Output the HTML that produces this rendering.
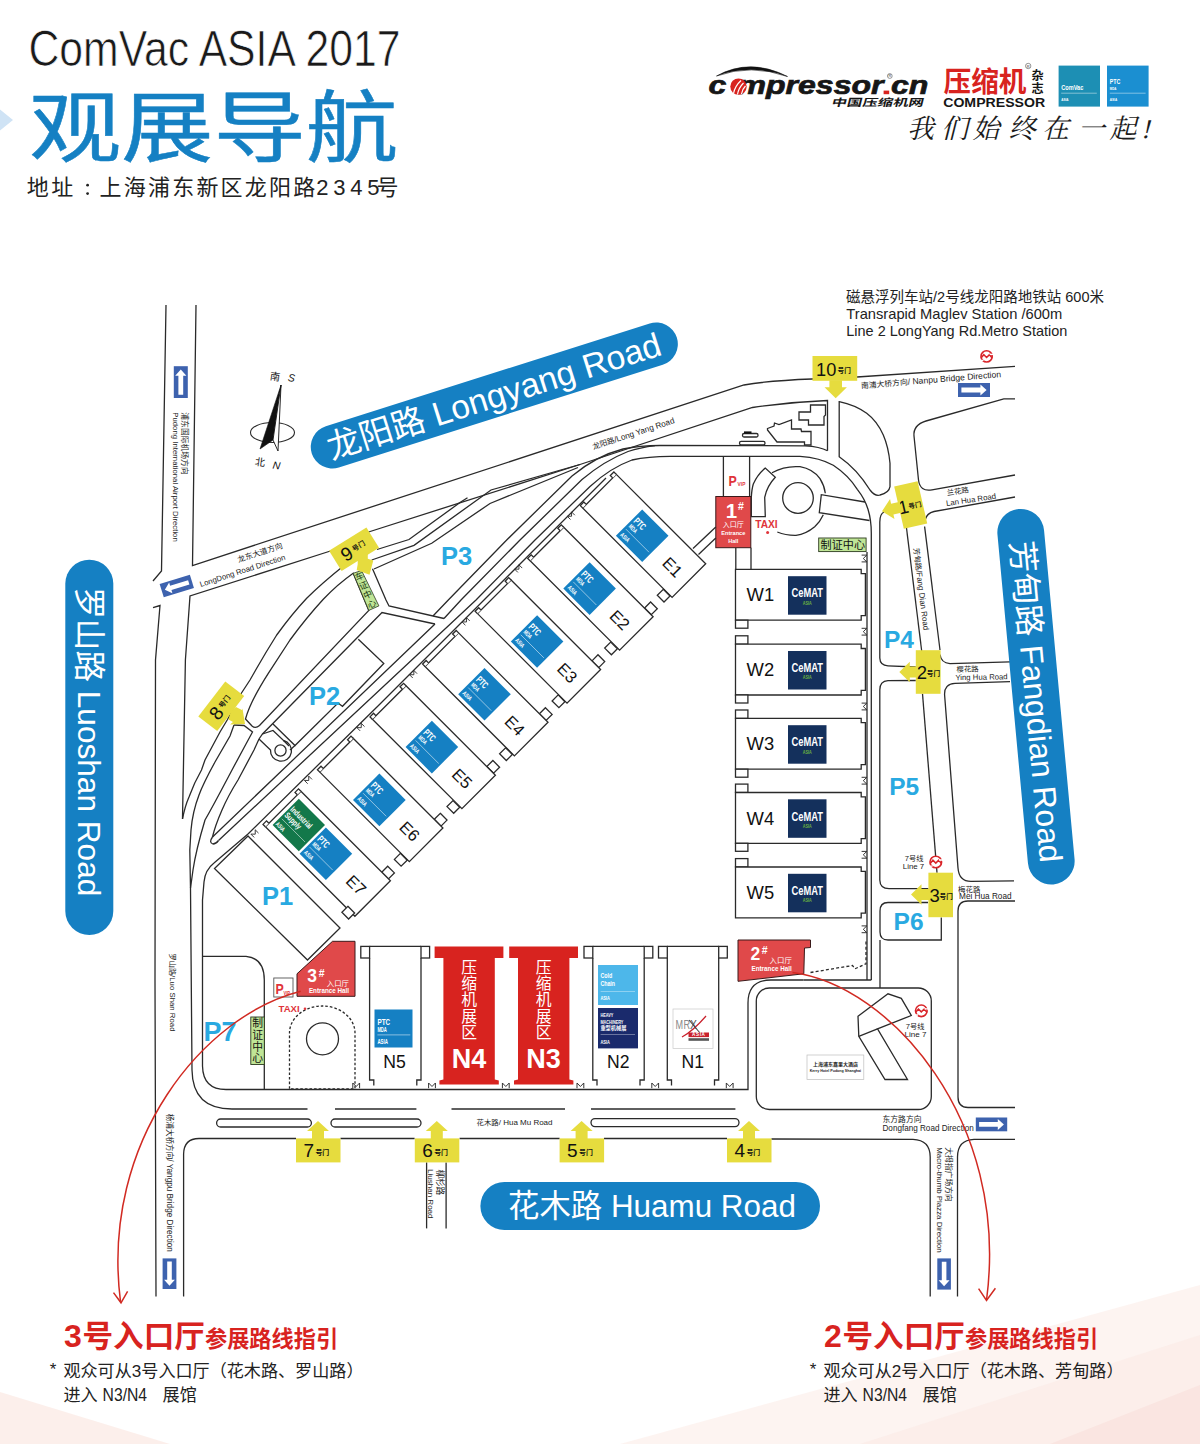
<!DOCTYPE html>
<html lang="zh"><head><meta charset="utf-8"><title>ComVac ASIA 2017 观展导航</title>
<style>
html,body{margin:0;padding:0;background:#fff;}
body{width:1200px;height:1444px;overflow:hidden;font-family:"Liberation Sans",sans-serif;}
svg{display:block}
.cj{font-family:"Liberation Sans","Noto Sans CJK SC",sans-serif}
.cs{font-family:"Liberation Serif","Noto Serif CJK SC",serif}
</style></head><body>
<svg width="1200" height="1444" viewBox="0 0 1200 1444">
<rect width="1200" height="1444" fill="#fff"/>
<path d="M0 109.5 L13 120 L0 130.5Z" fill="#cfe3f5" stroke="none" stroke-width="1.3" />
<text x="28.5" y="65.8" font-family="'Liberation Sans', sans-serif" font-size="50" fill="#1a1a1a" stroke="#fff" stroke-width="0.7" textLength="372" lengthAdjust="spacingAndGlyphs">ComVac ASIA 2017</text>
<text class="cj" x="29" y="155.8" font-size="78" fill="#1580c3" stroke="#1580c3" stroke-width="0.5" textLength="369" lengthAdjust="spacingAndGlyphs">观展导航</text>
<text class="cj" x="26.8" y="195" font-size="22" fill="#222" letter-spacing="2.4">地址</text>
<circle cx="87.6" cy="185.2" r="1.4" fill="#222" stroke="none" stroke-width="1.3"/>
<circle cx="87.6" cy="193.6" r="1.4" fill="#222" stroke="none" stroke-width="1.3"/>
<text class="cj" x="99.6" y="195" font-size="22" fill="#222" letter-spacing="2.2">上海浦东新区龙阳路</text>
<text class="cj" x="316.2" y="195" font-size="22" fill="#222" letter-spacing="4.8">2345</text>
<text class="cj" x="376.6" y="195" font-size="22" fill="#222">号</text>
<path d="M166 305 L161.5 571 L153 581" fill="none" stroke="#2a2a2a" stroke-width="1.3" />
<path d="M153 607.5 L160 605.5 L155.5 660 L155 980 L156 1296.5" fill="none" stroke="#2a2a2a" stroke-width="1.3" />
<path d="M196 305 L192.5 565.5 L744 385 Q770 380.5 812 379 L857 377 L1015 366.3" fill="none" stroke="#2a2a2a" stroke-width="1.3" />
<path d="M182.5 819 L185.4 660 L190 596 L332 550.5" fill="none" stroke="#2a2a2a" stroke-width="1.3" />
<path d="M367 532.5 L580 464.5 L752.5 407.5 Q790 402 827.5 400.5 L827.5 450.8" fill="none" stroke="#2a2a2a" stroke-width="1.3" />
<path d="M467.5 497.8 L460 502.5 L409 539.5 L377 549.5" fill="none" stroke="#2a2a2a" stroke-width="1.3" />
<path d="M371.7 560 L414 545.3 L491 490 L580 464.5" fill="none" stroke="#2a2a2a" stroke-width="1.3" />
<path d="M374 569 L431.7 543.3 L490 503.5 L578 467.5" fill="none" stroke="#2a2a2a" stroke-width="1.3" />
<path d="M433 616 L448.3 600 L506.7 540 L572 476 Q596 456 623 449 Q640 445.5 660 445.5 L805 445.8 Q820 446.5 827.5 450.8" fill="none" stroke="#2a2a2a" stroke-width="1.3" />
<path d="M212.5 837 L435 624 M444 618.5 L461 600 L520 540 L582 479.5 Q604 461 628 451.5 Q640 447.5 655 445.6" fill="none" stroke="#2a2a2a" stroke-width="1.3" />
<path d="M218.5 840.5 L476 600 L535 540 L590 486.5 Q610 468 632 460 Q648 456.3 670 456.3 L800 456.3 Q820 457.5 833.3 465.3 Q848 475 857.3 489.3 Q865 499 868 509.3 Q871.3 520 871.3 533.3 L871.3 980" fill="none" stroke="#2a2a2a" stroke-width="1.3" />
<path d="M867 552 L867 980" fill="none" stroke="#2a2a2a" stroke-width="1.3" />
<path d="M212.5 837 Q208.5 842.5 213 844 Q216 844 218.5 840.5" fill="none" stroke="#2a2a2a" stroke-width="1.3" />
<path d="M248 834 L380 704 L484 600 L606 478" fill="none" stroke="#2a2a2a" stroke-width="1.3" />
<path d="M248 834 L214 863 Q205 870 204 882 L202.5 900 L202.5 1066 Q203 1089.5 226 1089.5 L747 1089.5" fill="none" stroke="#2a2a2a" stroke-width="1.3" />
<path d="M182.5 819 Q185 806 189 797 Q194 783 201.5 770 L205 760 L220 732 L227.5 719.5 L241.5 693 L250 680 L256.7 668.3 Q266 652 276.7 635 Q292 614 306.7 598.3 Q322 583 346 564" fill="none" stroke="#2a2a2a" stroke-width="1.3" />
<path d="M234 725 L230 736 L215 762 Q203 784 199 795 Q192.5 812 191 830 L189.8 850 L190.5 888 L192 1070 Q192.5 1109 232 1109 L307.5 1109" fill="none" stroke="#2a2a2a" stroke-width="1.3" />
<path d="M234 725 L244 725.5 L252.5 732 L246 744 L232 770 Q212 808 205 820 Q196 850 193 870 L190.5 888" fill="none" stroke="#2a2a2a" stroke-width="1.3" />
<path d="M259 739 L254 750 L238 780 Q228 796 222 810 Q215 826 212.5 837" fill="none" stroke="#2a2a2a" stroke-width="1.3" />
<path d="M245.5 719 Q250 702 268.3 673.3 L290 640 Q306 618 323.3 599.2 Q338 584 353.2 573.3 L368.8 610.4 L259.5 725.5 Q255.5 729 252 726 Z" fill="none" stroke="#2a2a2a" stroke-width="1.3" />
<path d="M259 739 L262.5 734 L382 612.5 L435 624" fill="none" stroke="#2a2a2a" stroke-width="1.3" />
<path d="M372.5 568.8 L386 600 L389 606 L444 618.5" fill="none" stroke="#2a2a2a" stroke-width="1.3" />
<path d="M358.3 639.2 L383.8 663.5 L342.5 706.3 L338 703 L295 745.5 L273 724" fill="none" stroke="#2a2a2a" stroke-width="1.3" />
<path d="M290 750 L295 745.5" fill="none" stroke="#2a2a2a" stroke-width="1.3" />
<path d="M259 739 L270.5 750 A10.5 10.5 0 1 0 283.5 740.5 L273 730.5 L262.5 734" fill="none" stroke="#2a2a2a" stroke-width="1.3" />
<path d="M283.5 740.5 L289 746" fill="none" stroke="#2a2a2a" stroke-width="1.3" />
<circle cx="280.5" cy="750.5" r="5.6" fill="none" stroke="#2a2a2a" stroke-width="1.3"/>
<path d="M839.2 401.7 L839.2 456.7 Q857 469 870 490 Q875 496.5 880 495 Q889 493 890 486.7 L890 463.3 Q888.5 447 883.3 435 Q877 421 866.7 413.3 Q855 405 839.2 401.7 Z" fill="none" stroke="#2a2a2a" stroke-width="1.3" />
<path d="M803.5 980 L871.3 980" fill="none" stroke="#2a2a2a" stroke-width="1.3" />
<path d="M747 1089.5 L748 1089.5 L748 1003 Q748 980 771 980 L803.5 980" fill="none" stroke="#2a2a2a" stroke-width="1.3" />
<path d="M884 512 Q879.8 514 879.8 522 L879.8 658 Q880 665.5 888 665.8 L915.8 667" fill="none" stroke="#2a2a2a" stroke-width="1.3" />
<path d="M906.5 528 L921.7 651" fill="none" stroke="#2a2a2a" stroke-width="1.3" />
<path d="M924.6 526.5 L940 650" fill="none" stroke="#2a2a2a" stroke-width="1.3" />
<path d="M915.8 680.5 L888 680.7 Q879.8 681 879.8 690 L879.8 880 Q880 888.7 889 888.7 L928.4 888.7" fill="none" stroke="#2a2a2a" stroke-width="1.3" />
<path d="M922.5 693.8 L937 872.7" fill="none" stroke="#2a2a2a" stroke-width="1.3" />
<path d="M941.3 917.5 L941.3 940 L888 940 Q880 940 880 932 L880 911 Q880 902.5 888 902.5 L928 902.5" fill="none" stroke="#2a2a2a" stroke-width="1.3" />
<path d="M880 940 L880 988" fill="none" stroke="#2a2a2a" stroke-width="1.3" />
<path d="M1015 398.8 L1003.8 398.8 L926 421 Q913 425 914 436 L918.5 480 Q920 492 932 489.8 L1015 475" fill="none" stroke="#2a2a2a" stroke-width="1.3" />
<path d="M1015 497 L934 511.5 Q927 513 925 520" fill="none" stroke="#2a2a2a" stroke-width="1.3" />
<path d="M940 654.5 Q941 663 950 663.6 L1010 661.8" fill="none" stroke="#2a2a2a" stroke-width="1.3" />
<path d="M1010 681.6 L955 683.4 Q944 684 944.6 695 L958 868 Q959 881.4 971 881.4 L1014 880.8" fill="none" stroke="#2a2a2a" stroke-width="1.3" />
<path d="M1015 901 L968 901 Q958 901 958 911 L958 1097 Q958 1107.5 968 1107.5 L1015 1107.5" fill="none" stroke="#2a2a2a" stroke-width="1.3" />
<path d="M953 898 L1014 897.5" fill="none" stroke="none" stroke-width="1.3" />
<rect x="756.3" y="988" width="175" height="121.5" rx="13" fill="none" stroke="#2a2a2a" stroke-width="1.3" />
<path d="M858 1016.3 L888 993.8 L901.3 998.3 L911.3 1015.5 L877.5 1028.8 L907.5 1079.5 L885 1079.5 L858.8 1036.3Z" fill="none" stroke="#2a2a2a" stroke-width="1.3" />
<path d="M858.8 1036.3 L877.5 1028.8" fill="none" stroke="#2a2a2a" stroke-width="1.3" />
<rect x="807" y="1055" width="56.8" height="24.5" rx="0" fill="#fff" stroke="#bdbdbd" stroke-width="0.7" />
<path d="M810.5 972.5 L852.5 965.5 L855 968.8 L866 963.8 L866 941" fill="none" stroke="#2a2a2a" stroke-width="1.3" stroke-dasharray="3 2.2"/>
<path d="M335 1109 L416.4 1109" fill="none" stroke="#2a2a2a" stroke-width="1.3" />
<path d="M451.5 1109 L565 1109" fill="none" stroke="#2a2a2a" stroke-width="1.3" />
<path d="M591 1109 L735.4 1109" fill="none" stroke="#2a2a2a" stroke-width="1.3" />
<rect x="216.6" y="1119" width="94.8" height="8" rx="4" fill="none" stroke="#2a2a2a" stroke-width="1.3" />
<rect x="331" y="1119" width="90" height="8" rx="4" fill="none" stroke="#2a2a2a" stroke-width="1.3" />
<rect x="591" y="1118.6" width="148" height="8" rx="4" fill="none" stroke="#2a2a2a" stroke-width="1.3" />
<path d="M183.6 1296.5 L183.6 1154 Q184 1138.5 199 1138.5 L296 1138.5" fill="none" stroke="#2a2a2a" stroke-width="1.3" />
<path d="M340.5 1138.5 L414.6 1138.5" fill="none" stroke="#2a2a2a" stroke-width="1.3" />
<path d="M459.6 1138.5 L559.6 1138.5" fill="none" stroke="#2a2a2a" stroke-width="1.3" />
<path d="M604 1138.5 L727 1138.5" fill="none" stroke="#2a2a2a" stroke-width="1.3" />
<path d="M771.4 1139 L913 1139.3 Q930.2 1140 930.2 1157 L930.2 1296.5" fill="none" stroke="#2a2a2a" stroke-width="1.3" />
<path d="M1015 1139.3 L974 1139.3 Q957.5 1140 957.5 1157 L957.5 1296.5" fill="none" stroke="#2a2a2a" stroke-width="1.3" />
<path d="M426.6 1162.4 L426.6 1228.4" fill="none" stroke="#2a2a2a" stroke-width="1.3" />
<path d="M446.1 1162.4 L446.1 1228.4" fill="none" stroke="#2a2a2a" stroke-width="1.3" />
<path d="M810.5 405 L825.5 405 L825.5 415 L824 416.5 L824 425 L808.5 425 L808.5 420 L799 420 L799 412 L810.5 412Z" fill="none" stroke="#2a2a2a" stroke-width="1.3" />
<path d="M767.5 428.5 L774 426 L774.5 423 L779 424.5 L791.5 420 L791.5 429 L801 429 L801.5 431.5 L811 431.5 L811 445 L804.5 445 L804.5 442 L777 442 L767.5 430Z" fill="none" stroke="#2a2a2a" stroke-width="1.3" />
<rect x="739.5" y="441.3" width="25.5" height="3.6" rx="1.6" fill="none" stroke="#2a2a2a" stroke-width="1.3" />
<rect x="742.5" y="433.5" width="15.5" height="3.5" rx="1.5" fill="none" stroke="#2a2a2a" stroke-width="1.3" />
<rect x="744" y="431.4" width="7.5" height="2.2" rx="0" fill="#111" stroke="none" stroke-width="1.3" />
<path d="M723.4 456.3 L723.4 497" fill="none" stroke="#2a2a2a" stroke-width="1.3" />
<path d="M749.6 456.3 L749.6 497" fill="none" stroke="#2a2a2a" stroke-width="1.3" />
<circle cx="798" cy="498" r="15.3" fill="none" stroke="#2a2a2a" stroke-width="1.3"/>
<path d="M751.3 516.7 L751.3 497.3 Q751.8 489 753.3 484 Q757.5 474.5 765.3 468 L775.3 477.3 Q767 486 764.7 497.3 L765.3 516.7 Z" fill="none" stroke="#2a2a2a" stroke-width="1.3" />
<path d="M772 472.7 Q785 465.5 800 466.7 Q813 469 820 478.7 Q824.5 486 825.3 493.3" fill="none" stroke="#2a2a2a" stroke-width="1.3" />
<path d="M823.3 514.7 Q820 522 814.7 526.7 Q806 534 796 535.3 Q786 535.5 777.3 532" fill="none" stroke="#2a2a2a" stroke-width="1.3" />
<path d="M865 502 L821.3 494.7 L819.3 512.7 L869.5 520.5" fill="none" stroke="#2a2a2a" stroke-width="1.3" />
<path d="M289.5 1088.8 L289.5 1033 A32.75 27 0 0 1 355 1033 L355 1088.8 Z" fill="none" stroke="#2a2a2a" stroke-width="1.3" stroke-dasharray="2.6 2"/>
<circle cx="322.5" cy="1038.8" r="16" fill="none" stroke="#2a2a2a" stroke-width="1.3"/>
<path d="M202.5 956.3 L246 956.3 Q264.3 958 264.3 980 L264.3 1089.5" fill="none" stroke="#2a2a2a" stroke-width="1.3" />
<rect x="273.8" y="978" width="19.2" height="19" rx="0" fill="#fff" stroke="#555" stroke-width="0.9" />
<path d="M616.3 474.4 L705.7 563.8 L672.1 597.4 L582.7 508Z" fill="#fff" stroke="#2a2a2a" stroke-width="1.3" />
<path d="M582.7 508 L580.3 505.6 L583.8 502 L586.2 504.4" fill="#fff" stroke="#2a2a2a" stroke-width="1.3" />
<path d="M616.3 474.4 L613.9 472 L610.3 475.5 L612.7 477.9" fill="#fff" stroke="#2a2a2a" stroke-width="1.3" />
<path d="M663.3 589.3 L670 596 L664 602 L657.3 595.3Z" fill="#fff" stroke="#2a2a2a" stroke-width="1.3" />
<path d="M650.6 602 L657.3 608.7 L651.3 614.7 L644.6 608Z" fill="#fff" stroke="#2a2a2a" stroke-width="1.3" />
<path d="M642.2 509.5 L668.5 535.8 L642.2 562.1 L615.9 535.8Z" fill="#1580c3" stroke="none" stroke-width="1.3" />
<g transform="translate(642.2 535.8) rotate(45)">
<text x="0" y="0" font-family="'Liberation Sans', sans-serif" font-size="9.8" font-weight="bold" fill="#fff" text-anchor="start" transform="translate(-16.3 -3.4) scale(0.65 1)" >PTC</text>
<text x="0" y="0" font-family="'Liberation Sans', sans-serif" font-size="6.3" font-weight="bold" fill="#fff" text-anchor="start" transform="translate(-16.3 3.6) scale(0.66 1)" >MDA</text>
<line x1="-16.3" y1="6.8" x2="16.4" y2="6.8" stroke="#fff" stroke-width="0.55" opacity="0.92"/>
<text x="0" y="0" font-family="'Liberation Sans', sans-serif" font-size="6.3" font-weight="bold" fill="#fff" text-anchor="start" transform="translate(-16.3 15.4) scale(0.7 1)" >ASIA</text>
</g>
<text x="0" y="0" font-family="'Liberation Sans', sans-serif" font-size="16.6" font-weight="normal" fill="#111" text-anchor="middle" transform="translate(672.2 567.4) rotate(45)" dominant-baseline="central">E1</text>
<path d="M-3.4 2.6 L-3.4 -2.6 L0 0.9 L3.4 -2.6 L3.4 2.6" fill="none" stroke="#2a2a2a" stroke-width="0.95" transform="translate(571 515.7) rotate(-45) scale(0.9)"/>
<path d="M563.7 527.2 L653.1 616.7 L619.6 650.2 L530.1 560.8Z" fill="#fff" stroke="#2a2a2a" stroke-width="1.3" />
<path d="M530.1 560.8 L527.7 558.4 L531.2 554.9 L533.6 557.3" fill="#fff" stroke="#2a2a2a" stroke-width="1.3" />
<path d="M563.7 527.2 L561.3 524.8 L557.8 528.3 L560.2 530.7" fill="#fff" stroke="#2a2a2a" stroke-width="1.3" />
<path d="M610.7 642.1 L617.4 648.8 L611.4 654.8 L604.7 648.1Z" fill="#fff" stroke="#2a2a2a" stroke-width="1.3" />
<path d="M598 654.8 L604.7 661.6 L598.7 667.6 L592 660.9Z" fill="#fff" stroke="#2a2a2a" stroke-width="1.3" />
<path d="M589.6 562.3 L615.9 588.6 L589.6 614.9 L563.3 588.6Z" fill="#1580c3" stroke="none" stroke-width="1.3" />
<g transform="translate(589.6 588.6) rotate(45)">
<text x="0" y="0" font-family="'Liberation Sans', sans-serif" font-size="9.8" font-weight="bold" fill="#fff" text-anchor="start" transform="translate(-16.3 -3.4) scale(0.65 1)" >PTC</text>
<text x="0" y="0" font-family="'Liberation Sans', sans-serif" font-size="6.3" font-weight="bold" fill="#fff" text-anchor="start" transform="translate(-16.3 3.6) scale(0.66 1)" >MDA</text>
<line x1="-16.3" y1="6.8" x2="16.4" y2="6.8" stroke="#fff" stroke-width="0.55" opacity="0.92"/>
<text x="0" y="0" font-family="'Liberation Sans', sans-serif" font-size="6.3" font-weight="bold" fill="#fff" text-anchor="start" transform="translate(-16.3 15.4) scale(0.7 1)" >ASIA</text>
</g>
<text x="0" y="0" font-family="'Liberation Sans', sans-serif" font-size="16.6" font-weight="normal" fill="#111" text-anchor="middle" transform="translate(619.6 620.2) rotate(45)" dominant-baseline="central">E2</text>
<path d="M-3.4 2.6 L-3.4 -2.6 L0 0.9 L3.4 -2.6 L3.4 2.6" fill="none" stroke="#2a2a2a" stroke-width="0.95" transform="translate(518.4 568.6) rotate(-45) scale(0.9)"/>
<path d="M511.1 580 L600.6 669.5 L567 703.1 L477.5 613.6Z" fill="#fff" stroke="#2a2a2a" stroke-width="1.3" />
<path d="M477.5 613.6 L475.1 611.2 L478.7 607.7 L481.1 610.1" fill="#fff" stroke="#2a2a2a" stroke-width="1.3" />
<path d="M511.1 580 L508.7 577.6 L505.2 581.2 L507.6 583.6" fill="#fff" stroke="#2a2a2a" stroke-width="1.3" />
<path d="M558.2 694.9 L564.9 701.7 L558.9 707.7 L552.1 701Z" fill="#fff" stroke="#2a2a2a" stroke-width="1.3" />
<path d="M545.4 707.7 L552.1 714.4 L546.1 720.4 L539.4 713.7Z" fill="#fff" stroke="#2a2a2a" stroke-width="1.3" />
<path d="M537.1 615.2 L563.4 641.5 L537.1 667.8 L510.8 641.5Z" fill="#1580c3" stroke="none" stroke-width="1.3" />
<g transform="translate(537.1 641.5) rotate(45)">
<text x="0" y="0" font-family="'Liberation Sans', sans-serif" font-size="9.8" font-weight="bold" fill="#fff" text-anchor="start" transform="translate(-16.3 -3.4) scale(0.65 1)" >PTC</text>
<text x="0" y="0" font-family="'Liberation Sans', sans-serif" font-size="6.3" font-weight="bold" fill="#fff" text-anchor="start" transform="translate(-16.3 3.6) scale(0.66 1)" >MDA</text>
<line x1="-16.3" y1="6.8" x2="16.4" y2="6.8" stroke="#fff" stroke-width="0.55" opacity="0.92"/>
<text x="0" y="0" font-family="'Liberation Sans', sans-serif" font-size="6.3" font-weight="bold" fill="#fff" text-anchor="start" transform="translate(-16.3 15.4) scale(0.7 1)" >ASIA</text>
</g>
<text x="0" y="0" font-family="'Liberation Sans', sans-serif" font-size="16.6" font-weight="normal" fill="#111" text-anchor="middle" transform="translate(567.1 673.1) rotate(45)" dominant-baseline="central">E3</text>
<path d="M-3.4 2.6 L-3.4 -2.6 L0 0.9 L3.4 -2.6 L3.4 2.6" fill="none" stroke="#2a2a2a" stroke-width="0.95" transform="translate(465.9 621.4) rotate(-45) scale(0.9)"/>
<path d="M458.6 632.9 L548 722.3 L514.4 755.9 L425 666.5Z" fill="#fff" stroke="#2a2a2a" stroke-width="1.3" />
<path d="M425 666.5 L422.6 664.1 L426.1 660.5 L428.5 662.9" fill="#fff" stroke="#2a2a2a" stroke-width="1.3" />
<path d="M458.6 632.9 L456.2 630.5 L452.6 634 L455 636.4" fill="#fff" stroke="#2a2a2a" stroke-width="1.3" />
<path d="M505.6 747.8 L512.3 754.5 L506.3 760.5 L499.6 753.8Z" fill="#fff" stroke="#2a2a2a" stroke-width="1.3" />
<path d="M492.9 760.5 L499.6 767.2 L493.6 773.2 L486.8 766.5Z" fill="#fff" stroke="#2a2a2a" stroke-width="1.3" />
<path d="M484.5 668 L510.8 694.3 L484.5 720.6 L458.2 694.3Z" fill="#1580c3" stroke="none" stroke-width="1.3" />
<g transform="translate(484.5 694.3) rotate(45)">
<text x="0" y="0" font-family="'Liberation Sans', sans-serif" font-size="9.8" font-weight="bold" fill="#fff" text-anchor="start" transform="translate(-16.3 -3.4) scale(0.65 1)" >PTC</text>
<text x="0" y="0" font-family="'Liberation Sans', sans-serif" font-size="6.3" font-weight="bold" fill="#fff" text-anchor="start" transform="translate(-16.3 3.6) scale(0.66 1)" >MDA</text>
<line x1="-16.3" y1="6.8" x2="16.4" y2="6.8" stroke="#fff" stroke-width="0.55" opacity="0.92"/>
<text x="0" y="0" font-family="'Liberation Sans', sans-serif" font-size="6.3" font-weight="bold" fill="#fff" text-anchor="start" transform="translate(-16.3 15.4) scale(0.7 1)" >ASIA</text>
</g>
<text x="0" y="0" font-family="'Liberation Sans', sans-serif" font-size="16.6" font-weight="normal" fill="#111" text-anchor="middle" transform="translate(514.5 725.9) rotate(45)" dominant-baseline="central">E4</text>
<path d="M-3.4 2.6 L-3.4 -2.6 L0 0.9 L3.4 -2.6 L3.4 2.6" fill="none" stroke="#2a2a2a" stroke-width="0.95" transform="translate(413.3 674.2) rotate(-45) scale(0.9)"/>
<path d="M406 685.7 L495.4 775.2 L461.9 808.7 L372.4 719.3Z" fill="#fff" stroke="#2a2a2a" stroke-width="1.3" />
<path d="M372.4 719.3 L370 716.9 L373.5 713.3 L375.9 715.8" fill="#fff" stroke="#2a2a2a" stroke-width="1.3" />
<path d="M406 685.7 L403.6 683.3 L400 686.8 L402.5 689.2" fill="#fff" stroke="#2a2a2a" stroke-width="1.3" />
<path d="M453 800.6 L459.7 807.3 L453.7 813.3 L447 806.6Z" fill="#fff" stroke="#2a2a2a" stroke-width="1.3" />
<path d="M440.3 813.3 L447 820.1 L441 826.1 L434.3 819.3Z" fill="#fff" stroke="#2a2a2a" stroke-width="1.3" />
<path d="M431.9 720.8 L458.2 747.1 L431.9 773.4 L405.6 747.1Z" fill="#1580c3" stroke="none" stroke-width="1.3" />
<g transform="translate(431.9 747.1) rotate(45)">
<text x="0" y="0" font-family="'Liberation Sans', sans-serif" font-size="9.8" font-weight="bold" fill="#fff" text-anchor="start" transform="translate(-16.3 -3.4) scale(0.65 1)" >PTC</text>
<text x="0" y="0" font-family="'Liberation Sans', sans-serif" font-size="6.3" font-weight="bold" fill="#fff" text-anchor="start" transform="translate(-16.3 3.6) scale(0.66 1)" >MDA</text>
<line x1="-16.3" y1="6.8" x2="16.4" y2="6.8" stroke="#fff" stroke-width="0.55" opacity="0.92"/>
<text x="0" y="0" font-family="'Liberation Sans', sans-serif" font-size="6.3" font-weight="bold" fill="#fff" text-anchor="start" transform="translate(-16.3 15.4) scale(0.7 1)" >ASIA</text>
</g>
<text x="0" y="0" font-family="'Liberation Sans', sans-serif" font-size="16.6" font-weight="normal" fill="#111" text-anchor="middle" transform="translate(461.9 778.7) rotate(45)" dominant-baseline="central">E5</text>
<path d="M-3.4 2.6 L-3.4 -2.6 L0 0.9 L3.4 -2.6 L3.4 2.6" fill="none" stroke="#2a2a2a" stroke-width="0.95" transform="translate(360.7 727.1) rotate(-45) scale(0.9)"/>
<path d="M353.4 738.5 L442.9 828 L409.3 861.6 L319.8 772.1Z" fill="#fff" stroke="#2a2a2a" stroke-width="1.3" />
<path d="M319.8 772.1 L317.4 769.7 L321 766.2 L323.4 768.6" fill="#fff" stroke="#2a2a2a" stroke-width="1.3" />
<path d="M353.4 738.5 L351 736.1 L347.5 739.7 L349.9 742.1" fill="#fff" stroke="#2a2a2a" stroke-width="1.3" />
<path d="M400.4 853.4 L407.2 860.2 L401.1 866.2 L394.4 859.4Z" fill="#fff" stroke="#2a2a2a" stroke-width="1.3" />
<path d="M387.7 866.2 L394.4 872.9 L388.4 878.9 L381.7 872.2Z" fill="#fff" stroke="#2a2a2a" stroke-width="1.3" />
<path d="M379.4 773.6 L405.7 799.9 L379.4 826.3 L353 799.9Z" fill="#1580c3" stroke="none" stroke-width="1.3" />
<g transform="translate(379.4 799.9) rotate(45)">
<text x="0" y="0" font-family="'Liberation Sans', sans-serif" font-size="9.8" font-weight="bold" fill="#fff" text-anchor="start" transform="translate(-16.3 -3.4) scale(0.65 1)" >PTC</text>
<text x="0" y="0" font-family="'Liberation Sans', sans-serif" font-size="6.3" font-weight="bold" fill="#fff" text-anchor="start" transform="translate(-16.3 3.6) scale(0.66 1)" >MDA</text>
<line x1="-16.3" y1="6.8" x2="16.4" y2="6.8" stroke="#fff" stroke-width="0.55" opacity="0.92"/>
<text x="0" y="0" font-family="'Liberation Sans', sans-serif" font-size="6.3" font-weight="bold" fill="#fff" text-anchor="start" transform="translate(-16.3 15.4) scale(0.7 1)" >ASIA</text>
</g>
<text x="0" y="0" font-family="'Liberation Sans', sans-serif" font-size="16.6" font-weight="normal" fill="#111" text-anchor="middle" transform="translate(409.4 831.5) rotate(45)" dominant-baseline="central">E6</text>
<path d="M-3.4 2.6 L-3.4 -2.6 L0 0.9 L3.4 -2.6 L3.4 2.6" fill="none" stroke="#2a2a2a" stroke-width="0.95" transform="translate(308.2 779.9) rotate(-45) scale(0.9)"/>
<path d="M300.9 791.3 L390.4 880.8 L354.9 916.3 L265.4 826.8Z" fill="#fff" stroke="#2a2a2a" stroke-width="1.3" />
<path d="M265.4 826.8 L263 824.4 L266.5 820.9 L268.9 823.3" fill="#fff" stroke="#2a2a2a" stroke-width="1.3" />
<path d="M300.9 791.3 L298.5 788.9 L295 792.4 L297.4 794.8" fill="#fff" stroke="#2a2a2a" stroke-width="1.3" />
<path d="M325.9 827.4 L352.2 853.7 L325.9 880 L299.6 853.7Z" fill="#1580c3" stroke="none" stroke-width="1.3" />
<g transform="translate(325.9 853.7) rotate(45)">
<text x="0" y="0" font-family="'Liberation Sans', sans-serif" font-size="9.8" font-weight="bold" fill="#fff" text-anchor="start" transform="translate(-16.3 -3.4) scale(0.65 1)" >PTC</text>
<text x="0" y="0" font-family="'Liberation Sans', sans-serif" font-size="6.3" font-weight="bold" fill="#fff" text-anchor="start" transform="translate(-16.3 3.6) scale(0.66 1)" >MDA</text>
<line x1="-16.3" y1="6.8" x2="16.4" y2="6.8" stroke="#fff" stroke-width="0.55" opacity="0.92"/>
<text x="0" y="0" font-family="'Liberation Sans', sans-serif" font-size="6.3" font-weight="bold" fill="#fff" text-anchor="start" transform="translate(-16.3 15.4) scale(0.7 1)" >ASIA</text>
</g>
<text x="0" y="0" font-family="'Liberation Sans', sans-serif" font-size="16.6" font-weight="normal" fill="#111" text-anchor="middle" transform="translate(355.9 885.3) rotate(45)" dominant-baseline="central">E7</text>
<path d="M-3.4 2.6 L-3.4 -2.6 L0 0.9 L3.4 -2.6 L3.4 2.6" fill="none" stroke="#2a2a2a" stroke-width="0.95" transform="translate(254.7 833.6) rotate(-45) scale(0.9)"/>
<path d="M347.9 906.3 L354.6 913 L348.6 919 L341.9 912.3Z" fill="#fff" stroke="#2a2a2a" stroke-width="1.3" />
<path d="M298.8 798.8 L325 825 L298.8 851.2 L272.6 825Z" fill="#13784a" stroke="none" stroke-width="1.3" />
<g transform="translate(298.8 825) rotate(45)">
<text x="0" y="0" font-family="'Liberation Sans', sans-serif" font-size="8.4" font-weight="bold" fill="#fff" text-anchor="start" transform="translate(-17 -4.2) scale(0.72 1)" >Industrial</text>
<text x="0" y="0" font-family="'Liberation Sans', sans-serif" font-size="8.4" font-weight="bold" fill="#fff" text-anchor="start" transform="translate(-17 3.9) scale(0.72 1)" >Supply</text>
<line x1="-16.4" y1="7.6" x2="16.4" y2="7.6" stroke="#fff" stroke-width="0.55" opacity="0.92"/>
<text x="0" y="0" font-family="'Liberation Sans', sans-serif" font-size="6.3" font-weight="bold" fill="#fff" text-anchor="start" transform="translate(-17 16.4) scale(0.7 1)" >ASIA</text>
</g>
<path d="M248 836 L340 928 L307.5 960 L214.5 868.5Z" fill="#fff" stroke="#2a2a2a" stroke-width="1.3" />
<path d="M735.5 569.4 L861.2 569.4 L861.2 573.7 L865.4 573.7 L865.4 615.6 L861.2 615.6 L861.2 620.2 L735.5 620.2Z" fill="#fff" stroke="#2a2a2a" stroke-width="1.3" />
<rect x="788" y="576.2" width="38.5" height="38.5" rx="0" fill="#14305c" stroke="none" stroke-width="1.3" />
<text x="0" y="0" font-family="'Liberation Sans', sans-serif" font-size="12.8" font-weight="bold" fill="#fff" text-anchor="middle" transform="translate(807.2 597.4) scale(0.73 1)" >CeMAT</text>
<text x="0" y="0" font-family="'Liberation Sans', sans-serif" font-size="5.4" font-weight="bold" fill="#6db33f" text-anchor="middle" transform="translate(807.2 604.5) scale(0.7 1)" >ASIA</text>
<text x="760.4" y="601.4" font-family="'Liberation Sans', sans-serif" font-size="18.4" font-weight="normal" fill="#111" text-anchor="middle" >W1</text>
<rect x="735.5" y="620.2" width="12.4" height="8" rx="0" fill="#fff" stroke="#2a2a2a" stroke-width="1.3" />
<rect x="735.5" y="635.8" width="12.4" height="8.4" rx="0" fill="#fff" stroke="#2a2a2a" stroke-width="1.3" />
<path d="M-3.4 2.6 L-3.4 -2.6 L0 0.9 L3.4 -2.6 L3.4 2.6" fill="none" stroke="#2a2a2a" stroke-width="0.95" transform="translate(864.2 631.7) rotate(90) scale(1.0)"/>
<path d="M735.5 644.2 L861.2 644.2 L861.2 648.5 L865.4 648.5 L865.4 690.4 L861.2 690.4 L861.2 695 L735.5 695Z" fill="#fff" stroke="#2a2a2a" stroke-width="1.3" />
<rect x="788" y="651" width="38.5" height="38.5" rx="0" fill="#14305c" stroke="none" stroke-width="1.3" />
<text x="0" y="0" font-family="'Liberation Sans', sans-serif" font-size="12.8" font-weight="bold" fill="#fff" text-anchor="middle" transform="translate(807.2 672.2) scale(0.73 1)" >CeMAT</text>
<text x="0" y="0" font-family="'Liberation Sans', sans-serif" font-size="5.4" font-weight="bold" fill="#6db33f" text-anchor="middle" transform="translate(807.2 679.3) scale(0.7 1)" >ASIA</text>
<text x="760.4" y="676.2" font-family="'Liberation Sans', sans-serif" font-size="18.4" font-weight="normal" fill="#111" text-anchor="middle" >W2</text>
<rect x="735.5" y="695" width="12.4" height="8" rx="0" fill="#fff" stroke="#2a2a2a" stroke-width="1.3" />
<rect x="735.5" y="710" width="12.4" height="8.4" rx="0" fill="#fff" stroke="#2a2a2a" stroke-width="1.3" />
<path d="M-3.4 2.6 L-3.4 -2.6 L0 0.9 L3.4 -2.6 L3.4 2.6" fill="none" stroke="#2a2a2a" stroke-width="0.95" transform="translate(864.2 706.5) rotate(90) scale(1.0)"/>
<path d="M735.5 718.4 L861.2 718.4 L861.2 722.7 L865.4 722.7 L865.4 764.6 L861.2 764.6 L861.2 769.2 L735.5 769.2Z" fill="#fff" stroke="#2a2a2a" stroke-width="1.3" />
<rect x="788" y="725.2" width="38.5" height="38.5" rx="0" fill="#14305c" stroke="none" stroke-width="1.3" />
<text x="0" y="0" font-family="'Liberation Sans', sans-serif" font-size="12.8" font-weight="bold" fill="#fff" text-anchor="middle" transform="translate(807.2 746.4) scale(0.73 1)" >CeMAT</text>
<text x="0" y="0" font-family="'Liberation Sans', sans-serif" font-size="5.4" font-weight="bold" fill="#6db33f" text-anchor="middle" transform="translate(807.2 753.5) scale(0.7 1)" >ASIA</text>
<text x="760.4" y="750.4" font-family="'Liberation Sans', sans-serif" font-size="18.4" font-weight="normal" fill="#111" text-anchor="middle" >W3</text>
<rect x="735.5" y="769.2" width="12.4" height="8" rx="0" fill="#fff" stroke="#2a2a2a" stroke-width="1.3" />
<rect x="735.5" y="784.1" width="12.4" height="8.4" rx="0" fill="#fff" stroke="#2a2a2a" stroke-width="1.3" />
<path d="M-3.4 2.6 L-3.4 -2.6 L0 0.9 L3.4 -2.6 L3.4 2.6" fill="none" stroke="#2a2a2a" stroke-width="0.95" transform="translate(864.2 780.7) rotate(90) scale(1.0)"/>
<path d="M735.5 792.5 L861.2 792.5 L861.2 796.8 L865.4 796.8 L865.4 838.7 L861.2 838.7 L861.2 843.3 L735.5 843.3Z" fill="#fff" stroke="#2a2a2a" stroke-width="1.3" />
<rect x="788" y="799.3" width="38.5" height="38.5" rx="0" fill="#14305c" stroke="none" stroke-width="1.3" />
<text x="0" y="0" font-family="'Liberation Sans', sans-serif" font-size="12.8" font-weight="bold" fill="#fff" text-anchor="middle" transform="translate(807.2 820.5) scale(0.73 1)" >CeMAT</text>
<text x="0" y="0" font-family="'Liberation Sans', sans-serif" font-size="5.4" font-weight="bold" fill="#6db33f" text-anchor="middle" transform="translate(807.2 827.6) scale(0.7 1)" >ASIA</text>
<text x="760.4" y="824.5" font-family="'Liberation Sans', sans-serif" font-size="18.4" font-weight="normal" fill="#111" text-anchor="middle" >W4</text>
<rect x="735.5" y="843.3" width="12.4" height="8" rx="0" fill="#fff" stroke="#2a2a2a" stroke-width="1.3" />
<rect x="735.5" y="858.6" width="12.4" height="8.4" rx="0" fill="#fff" stroke="#2a2a2a" stroke-width="1.3" />
<path d="M-3.4 2.6 L-3.4 -2.6 L0 0.9 L3.4 -2.6 L3.4 2.6" fill="none" stroke="#2a2a2a" stroke-width="0.95" transform="translate(864.2 854.8) rotate(90) scale(1.0)"/>
<path d="M735.5 867 L861.2 867 L861.2 871.3 L865.4 871.3 L865.4 913.2 L861.2 913.2 L861.2 917.8 L735.5 917.8Z" fill="#fff" stroke="#2a2a2a" stroke-width="1.3" />
<rect x="788" y="873.8" width="38.5" height="38.5" rx="0" fill="#14305c" stroke="none" stroke-width="1.3" />
<text x="0" y="0" font-family="'Liberation Sans', sans-serif" font-size="12.8" font-weight="bold" fill="#fff" text-anchor="middle" transform="translate(807.2 895) scale(0.73 1)" >CeMAT</text>
<text x="0" y="0" font-family="'Liberation Sans', sans-serif" font-size="5.4" font-weight="bold" fill="#6db33f" text-anchor="middle" transform="translate(807.2 902.1) scale(0.7 1)" >ASIA</text>
<text x="760.4" y="899" font-family="'Liberation Sans', sans-serif" font-size="18.4" font-weight="normal" fill="#111" text-anchor="middle" >W5</text>
<path d="M-3.4 2.6 L-3.4 -2.6 L0 0.9 L3.4 -2.6 L3.4 2.6" fill="none" stroke="#2a2a2a" stroke-width="0.95" transform="translate(864.2 929.3) rotate(90) scale(1.0)"/>
<path d="M-3.4 2.6 L-3.4 -2.6 L0 0.9 L3.4 -2.6 L3.4 2.6" fill="none" stroke="#2a2a2a" stroke-width="0.95" transform="translate(864.2 558.5) rotate(90) scale(1.0)"/>
<path d="M735.8 547.8 L735.8 569.4" fill="none" stroke="#2a2a2a" stroke-width="1.3" />
<path d="M751 547.8 L751 569.4" fill="none" stroke="#2a2a2a" stroke-width="1.3" />
<rect x="360.8" y="946.4" width="8.8" height="11.6" rx="0" fill="#fff" stroke="#2a2a2a" stroke-width="1.3" />
<rect x="421" y="946.4" width="8.6" height="11.6" rx="0" fill="#fff" stroke="#2a2a2a" stroke-width="1.3" />
<path d="M369.6 946.4 L421 946.4" fill="none" stroke="#2a2a2a" stroke-width="1.3" />
<path d="M369.6 958 L369.6 1080 L373.8 1080 L373.8 1085.5" fill="none" stroke="#2a2a2a" stroke-width="1.3" />
<path d="M421 958 L421 1080 L416.8 1080 L416.8 1085.5" fill="none" stroke="#2a2a2a" stroke-width="1.3" />
<path d="M-3.4 2.6 L-3.4 -2.6 L0 0.9 L3.4 -2.6 L3.4 2.6" fill="none" stroke="#2a2a2a" stroke-width="0.95" transform="translate(432 1085.6) rotate(0) scale(1.0)"/>
<path d="M434.6 946.4 L503.4 946.4 L503.4 958 L494.8 958 L494.8 1079.5 L498.8 1080.5 L498.8 1084.6 L439.4 1084.6 L439.4 1080.5 L443.4 1079.5 L443.4 958 L434.6 958Z" fill="#d8231f" stroke="none" stroke-width="1.3" />
<path d="M-3.4 2.6 L-3.4 -2.6 L0 0.9 L3.4 -2.6 L3.4 2.6" fill="none" stroke="#2a2a2a" stroke-width="0.95" transform="translate(505.8 1085.6) rotate(0) scale(1.0)"/>
<path d="M509.2 946.4 L578 946.4 L578 958 L569.4 958 L569.4 1079.5 L573.4 1080.5 L573.4 1084.6 L514 1084.6 L514 1080.5 L518 1079.5 L518 958 L509.2 958Z" fill="#d8231f" stroke="none" stroke-width="1.3" />
<path d="M-3.4 2.6 L-3.4 -2.6 L0 0.9 L3.4 -2.6 L3.4 2.6" fill="none" stroke="#2a2a2a" stroke-width="0.95" transform="translate(580.4 1085.6) rotate(0) scale(1.0)"/>
<rect x="584" y="946.4" width="8.8" height="11.6" rx="0" fill="#fff" stroke="#2a2a2a" stroke-width="1.3" />
<rect x="644.2" y="946.4" width="8.6" height="11.6" rx="0" fill="#fff" stroke="#2a2a2a" stroke-width="1.3" />
<path d="M592.8 946.4 L644.2 946.4" fill="none" stroke="#2a2a2a" stroke-width="1.3" />
<path d="M592.8 958 L592.8 1080 L597 1080 L597 1085.5" fill="none" stroke="#2a2a2a" stroke-width="1.3" />
<path d="M644.2 958 L644.2 1080 L640 1080 L640 1085.5" fill="none" stroke="#2a2a2a" stroke-width="1.3" />
<path d="M-3.4 2.6 L-3.4 -2.6 L0 0.9 L3.4 -2.6 L3.4 2.6" fill="none" stroke="#2a2a2a" stroke-width="0.95" transform="translate(655.2 1085.6) rotate(0) scale(1.0)"/>
<rect x="658.5" y="946.4" width="8.8" height="11.6" rx="0" fill="#fff" stroke="#2a2a2a" stroke-width="1.3" />
<rect x="718.7" y="946.4" width="8.6" height="11.6" rx="0" fill="#fff" stroke="#2a2a2a" stroke-width="1.3" />
<path d="M667.3 946.4 L718.7 946.4" fill="none" stroke="#2a2a2a" stroke-width="1.3" />
<path d="M667.3 958 L667.3 1080 L671.5 1080 L671.5 1085.5" fill="none" stroke="#2a2a2a" stroke-width="1.3" />
<path d="M718.7 958 L718.7 1080 L714.5 1080 L714.5 1085.5" fill="none" stroke="#2a2a2a" stroke-width="1.3" />
<path d="M-3.4 2.6 L-3.4 -2.6 L0 0.9 L3.4 -2.6 L3.4 2.6" fill="none" stroke="#2a2a2a" stroke-width="0.95" transform="translate(729.7 1085.6) rotate(0) scale(1.0)"/>
<path d="M-3.4 2.6 L-3.4 -2.6 L0 0.9 L3.4 -2.6 L3.4 2.6" fill="none" stroke="#2a2a2a" stroke-width="0.95" transform="translate(356.2 1085.6) rotate(0) scale(1.0)"/>
<rect x="374.5" y="1009.5" width="38" height="38" rx="0" fill="#1580c3" stroke="none" stroke-width="1.3" />
<text x="0" y="0" font-family="'Liberation Sans', sans-serif" font-size="9.8" font-weight="bold" fill="#fff" text-anchor="start" transform="translate(377.4 1024.7) scale(0.65 1)" >PTC</text>
<text x="0" y="0" font-family="'Liberation Sans', sans-serif" font-size="6.3" font-weight="bold" fill="#fff" text-anchor="start" transform="translate(377.4 1031.7) scale(0.66 1)" >MDA</text>
<line x1="377.4" y1="1034.9" x2="410.3" y2="1034.9" stroke="#fff" stroke-width="0.55" opacity="0.92"/>
<text x="0" y="0" font-family="'Liberation Sans', sans-serif" font-size="6.3" font-weight="bold" fill="#fff" text-anchor="start" transform="translate(377.4 1043.5) scale(0.7 1)" >ASIA</text>
<text x="394.5" y="1068.4" font-family="'Liberation Sans', sans-serif" font-size="17.6" font-weight="normal" fill="#111" text-anchor="middle" >N5</text>
<text x="618.3" y="1068.4" font-family="'Liberation Sans', sans-serif" font-size="17.6" font-weight="normal" fill="#111" text-anchor="middle" >N2</text>
<text x="692.7" y="1068.4" font-family="'Liberation Sans', sans-serif" font-size="17.6" font-weight="normal" fill="#111" text-anchor="middle" >N1</text>
<text class="cj" font-size="15.8" fill="#fff" text-anchor="middle"><tspan x="469.1" y="972.6">压</tspan><tspan x="469.1" dy="16.3">缩</tspan><tspan x="469.1" dy="16.3">机</tspan><tspan x="469.1" dy="16.3">展</tspan><tspan x="469.1" dy="16.3">区</tspan></text>
<text x="469" y="1068.4" font-family="'Liberation Sans', sans-serif" font-size="27" font-weight="bold" fill="#fff" text-anchor="middle" >N4</text>
<text class="cj" font-size="15.8" fill="#fff" text-anchor="middle"><tspan x="543.7" y="972.6">压</tspan><tspan x="543.7" dy="16.3">缩</tspan><tspan x="543.7" dy="16.3">机</tspan><tspan x="543.7" dy="16.3">展</tspan><tspan x="543.7" dy="16.3">区</tspan></text>
<text x="543.6" y="1068.4" font-family="'Liberation Sans', sans-serif" font-size="27" font-weight="bold" fill="#fff" text-anchor="middle" >N3</text>
<rect x="598" y="965" width="40" height="40" rx="0" fill="#4db7ea" stroke="none" stroke-width="1.3" />
<text x="0" y="0" font-family="'Liberation Sans', sans-serif" font-size="8.0" font-weight="bold" fill="#fff" text-anchor="start" transform="translate(600.4 977.8) scale(0.66 1)" >Cold</text>
<text x="0" y="0" font-family="'Liberation Sans', sans-serif" font-size="8.0" font-weight="bold" fill="#fff" text-anchor="start" transform="translate(600.4 985.8) scale(0.66 1)" >Chain</text>
<line x1="600.6" y1="991.6" x2="635" y2="991.6" stroke="#fff" stroke-width="0.45" opacity="0.9"/>
<text x="0" y="0" font-family="'Liberation Sans', sans-serif" font-size="5.6" font-weight="bold" fill="#fff" text-anchor="start" transform="translate(600.4 1000.2) scale(0.7 1)" >ASIA</text>
<rect x="598" y="1008" width="40" height="40.4" rx="0" fill="#1a2a6c" stroke="none" stroke-width="1.3" />
<text x="0" y="0" font-family="'Liberation Sans', sans-serif" font-size="5.8" font-weight="bold" fill="#fff" text-anchor="start" transform="translate(600.4 1017.4) scale(0.66 1)" >HEAVY</text>
<text x="0" y="0" font-family="'Liberation Sans', sans-serif" font-size="5.8" font-weight="bold" fill="#fff" text-anchor="start" transform="translate(600.4 1023.6) scale(0.66 1)" >MACHINERY</text>
<text class="cj" x="600.4" y="1029.8" font-size="5.2" font-weight="bold" fill="#fff">重型机械展</text>
<line x1="600.6" y1="1034.4" x2="635" y2="1034.4" stroke="#fff" stroke-width="0.45" opacity="0.9"/>
<text x="0" y="0" font-family="'Liberation Sans', sans-serif" font-size="5.6" font-weight="bold" fill="#fff" text-anchor="start" transform="translate(600.4 1043.6) scale(0.7 1)" >ASIA</text>
<rect x="673" y="1009" width="40" height="39.4" rx="0" fill="#fff" stroke="#c9c9c9" stroke-width="0.7" />
<g transform="translate(673 1009)">
<text x="0" y="0" font-family="'Liberation Sans', sans-serif" font-size="13" font-weight="normal" fill="#8a8a8a" text-anchor="start" transform="translate(2.5 19.5) scale(0.7 1)" >M</text>
<text x="0" y="0" font-family="'Liberation Sans', sans-serif" font-size="13" font-weight="normal" fill="#8a8a8a" text-anchor="start" transform="translate(10.5 19.5) scale(0.7 1)" >R</text>
<text x="0" y="0" font-family="'Liberation Sans', sans-serif" font-size="13" font-weight="normal" fill="#555" text-anchor="start" transform="translate(17 19.5) scale(0.8 1)" >X</text>
<path d="M9 28 Q20 22 33 7" fill="none" stroke="#c8202b" stroke-width="1.3"/>
<path d="M16 11 L27 24" fill="none" stroke="#444" stroke-width="1.1"/>
<rect x="15.5" y="23.5" width="20.5" height="4.6" fill="#c8202b"/>
<text x="25.8" y="27.4" font-family="'Liberation Sans', sans-serif" font-size="4.6" font-weight="bold" fill="#fff" text-anchor="middle" letter-spacing="0.6" >ASIA</text>
<rect x="15.5" y="29.2" width="20.5" height="2.6" fill="#555"/>
</g>
<rect x="715.8" y="496.5" width="35" height="51.2" rx="0" fill="#e0494a" stroke="#3a1a1a" stroke-width="1.0" />
<text x="731.5" y="517.5" font-family="'Liberation Sans', sans-serif" font-size="20.5" font-weight="bold" fill="#fff" text-anchor="middle" >1</text>
<text x="741" y="509.8" font-family="'Liberation Sans', sans-serif" font-size="10.5" font-weight="bold" fill="#fff" text-anchor="middle" >#</text>
<text class="cj" x="733.3" y="527.2" font-size="7" fill="#fff" text-anchor="middle">入口厅</text>
<text x="733.3" y="535.2" font-family="'Liberation Sans', sans-serif" font-size="5.6" font-weight="bold" fill="#fff" text-anchor="middle" >Entrance</text>
<text x="733.3" y="543" font-family="'Liberation Sans', sans-serif" font-size="5.6" font-weight="bold" fill="#fff" text-anchor="middle" >Hall</text>
<path d="M693 548.5 L715.8 527" fill="none" stroke="#2a2a2a" stroke-width="1.3" />
<path d="M698.5 554.5 L715.8 538" fill="none" stroke="#2a2a2a" stroke-width="1.3" />
<text x="0" y="0" font-family="'Liberation Sans', sans-serif" font-size="15.5" font-weight="bold" fill="#e0343a" text-anchor="start" transform="translate(728.5 485.5) scale(0.8 1)" >P</text>
<text x="737.6" y="485.5" font-family="'Liberation Sans', sans-serif" font-size="4.8" font-weight="bold" fill="#e0343a" text-anchor="start" >VIP</text>
<text x="755.2" y="528.2" font-family="'Liberation Sans', sans-serif" font-size="10.2" font-weight="bold" fill="#e0343a" text-anchor="start" >TAXI</text>
<circle cx="767.6" cy="532.4" r="1.5" fill="#e0343a" stroke="none" stroke-width="1.3"/>
<rect x="818.7" y="538" width="47.4" height="13.6" rx="0" fill="#bfe596" stroke="#2c3a1f" stroke-width="0.9" />
<text class="cj" x="820.6" y="549" font-size="11.1" fill="#111">制证中心</text>
<path d="M332.5 941.3 L355 941.3 L355 996.3 L297 996.3 L297 973.8Z" fill="#e0494a" stroke="#3a1a1a" stroke-width="1.0" />
<text x="312.2" y="982" font-family="'Liberation Sans', sans-serif" font-size="17.5" font-weight="bold" fill="#fff" text-anchor="middle" >3</text>
<text x="321.6" y="976.6" font-family="'Liberation Sans', sans-serif" font-size="10.5" font-weight="bold" fill="#fff" text-anchor="middle" >#</text>
<text class="cj" x="326.8" y="985.6" font-size="7.4" fill="#fff">入口厅</text>
<text x="329" y="993.4" font-family="'Liberation Sans', sans-serif" font-size="6.3" font-weight="bold" fill="#fff" text-anchor="middle" >Entrance Hall</text>
<text x="0" y="0" font-family="'Liberation Sans', sans-serif" font-size="15.5" font-weight="bold" fill="#e0343a" text-anchor="start" transform="translate(275.4 994.2) scale(0.8 1)" >P</text>
<text x="0" y="0" font-family="'Liberation Sans', sans-serif" font-size="4.6" font-weight="bold" fill="#e0343a" text-anchor="start" transform="translate(283.4 994.6) scale(0.9 1)" >VIP</text>
<text x="278.5" y="1012.2" font-family="'Liberation Sans', sans-serif" font-size="9.6" font-weight="bold" fill="#e0343a" text-anchor="start" >TAXI</text>
<circle cx="305" cy="1008.8" r="1.3" fill="#e0343a" stroke="none" stroke-width="1.3"/>
<rect x="250.8" y="1017" width="13.5" height="47.5" rx="0" fill="#bfe596" stroke="#2c3a1f" stroke-width="0.9" />
<text class="cj" font-size="10.8" fill="#111" text-anchor="middle"><tspan x="257.6" y="1027.4">制</tspan><tspan x="257.6" dy="11.6">证</tspan><tspan x="257.6" dy="11.6">中</tspan><tspan x="257.6" dy="11.6">心</tspan></text>
<path d="M738 940 L810.5 940 L810.5 947.5 L804.5 948 L803.8 973.8 L738 981.3Z" fill="#e0494a" stroke="#3a1a1a" stroke-width="1.0" />
<text x="755.3" y="960.2" font-family="'Liberation Sans', sans-serif" font-size="17.5" font-weight="bold" fill="#fff" text-anchor="middle" >2</text>
<text x="764.6" y="954.4" font-family="'Liberation Sans', sans-serif" font-size="10.5" font-weight="bold" fill="#fff" text-anchor="middle" >#</text>
<text class="cj" x="769.6" y="963.4" font-size="7.4" fill="#fff">入口厅</text>
<text x="771.6" y="971.2" font-family="'Liberation Sans', sans-serif" font-size="6.3" font-weight="bold" fill="#fff" text-anchor="middle" >Entrance Hall</text>
<path d="M353.2 573.3 L361.5 570.5 L378.9 605.9 L368.8 610.4Z" fill="#bfe596" stroke="#2c3a1f" stroke-width="0.8" />
<text class="cj" transform="translate(359.4 576.4) rotate(-24)" x="-4.4" y="3.2" font-size="8.8" fill="#1d3b12">车</text>
<text class="cj" transform="translate(363.5 585.5) rotate(-24)" x="-4.4" y="3.2" font-size="8.8" fill="#1d3b12">证</text>
<text class="cj" transform="translate(367.7 594.6) rotate(-24)" x="-4.4" y="3.2" font-size="8.8" fill="#1d3b12">中</text>
<text class="cj" transform="translate(371.8 603.7) rotate(-24)" x="-4.4" y="3.2" font-size="8.8" fill="#1d3b12">心</text>
<g transform="translate(494.3 395.5) rotate(-17.6)">
<rect x="-191.5" y="-21.6" width="383" height="43.2" rx="21.6" fill="#1580c3" stroke="none" stroke-width="1.3" />
</g>
<g transform="translate(493.8 395.7) rotate(-17.6)">
<text class="cj" x="-174.2" y="12" font-size="33.7" font-weight="normal" fill="#fff" xml:space="preserve">龙阳路 Longyang Road</text>
</g>
<g transform="translate(650.2 1206) rotate(0)">
<rect x="-169.8" y="-24" width="339.6" height="48" rx="24.0" fill="#1580c3" stroke="none" stroke-width="1.3" />
</g>
<g transform="translate(652 1206) rotate(0)">
<text class="cj" x="-144" y="11.1" font-size="31.4" font-weight="normal" fill="#fff" xml:space="preserve">花木路 Huamu Road</text>
</g>
<g transform="translate(1036 696.7) rotate(84.7)">
<rect x="-188.5" y="-23.4" width="377" height="46.8" rx="23.4" fill="#1580c3" stroke="none" stroke-width="1.3" />
</g>
<g transform="translate(1036.5 701.7) rotate(84.7)">
<text class="cj" x="-161.4" y="11.3" font-size="31.9" font-weight="normal" fill="#fff" xml:space="preserve">芳甸路 Fangdian Road</text>
</g>
<g transform="translate(89.3 747.4) rotate(90)">
<rect x="-187.7" y="-24" width="375.3" height="48" rx="24.0" fill="#1580c3" stroke="none" stroke-width="1.3" />
</g>
<g transform="translate(89.3 741.8) rotate(90)">
<text class="cj" x="-154.6" y="11.2" font-size="31.6" font-weight="normal" fill="#fff" xml:space="preserve">罗山路 Luoshan Road</text>
</g>
<text x="456.7" y="565" font-family="'Liberation Sans', sans-serif" font-size="25.5" font-weight="bold" fill="#29a9e1" text-anchor="middle" >P3</text>
<text x="324.5" y="705" font-family="'Liberation Sans', sans-serif" font-size="25.5" font-weight="bold" fill="#29a9e1" text-anchor="middle" >P2</text>
<text x="277.5" y="905" font-family="'Liberation Sans', sans-serif" font-size="25.5" font-weight="bold" fill="#29a9e1" text-anchor="middle" >P1</text>
<text x="220" y="1040.5" font-family="'Liberation Sans', sans-serif" font-size="27" font-weight="bold" fill="#29a9e1" text-anchor="middle" >P7</text>
<text x="899" y="647.5" font-family="'Liberation Sans', sans-serif" font-size="24.5" font-weight="bold" fill="#29a9e1" text-anchor="middle" >P4</text>
<text x="904.2" y="795" font-family="'Liberation Sans', sans-serif" font-size="24.5" font-weight="bold" fill="#29a9e1" text-anchor="middle" >P5</text>
<text x="908.6" y="930.2" font-family="'Liberation Sans', sans-serif" font-size="24.5" font-weight="bold" fill="#29a9e1" text-anchor="middle" >P6</text>
<rect x="812.5" y="356" width="44.7" height="24.8" rx="0" fill="#e6dc3e" stroke="none" stroke-width="1.3" />
<text x="826.2" y="375.6" font-family="'Liberation Sans', sans-serif" font-size="18.2" font-weight="normal" fill="#111" text-anchor="middle" >10</text>
<text class="cj" x="837.6" y="372.8" font-size="6.6" font-weight="bold" fill="#111">号门</text>
<path d="M0 0 L-11 -11.2 L-11 -6.3 L-18 -6.3 L-18 6.3 L-11 6.3 L-11 11.2 Z" fill="#e6dc3e" transform="translate(835.7 398.2) rotate(90)"/>
<path d="M357.7 558 L357.7 564.3 L356.7 569.9 L369.5 574.7 L373.3 560.5 L367.8 558.8 L367.8 552Z" fill="#e6dc3e" stroke="none" stroke-width="1.3" />
<g transform="translate(354 549.2) rotate(-31.8)">
<rect x="-22" y="-11.9" width="44" height="23.9" rx="0" fill="#e6dc3e" stroke="none" stroke-width="1.3" />
<text x="-8.6" y="6.8" font-family="'Liberation Sans', sans-serif" font-size="19" font-weight="normal" fill="#111" text-anchor="middle" >9</text>
</g>
<text class="cj" transform="translate(354.1 551.7) rotate(-31.8)" x="0" y="0" font-size="6.8" font-weight="bold" fill="#111">号门</text>
<path d="M231 711 L236 707 L242 710 L242.5 708.5 L245 724 L230 724.5 L233 722 L228.5 719.5Z" fill="#e6dc3e" stroke="none" stroke-width="1.3" />
<g transform="translate(221.2 706.2) rotate(-52.4)">
<rect x="-22.1" y="-11.9" width="44.2" height="23.9" rx="0" fill="#e6dc3e" stroke="none" stroke-width="1.3" />
<text x="-8.6" y="6.8" font-family="'Liberation Sans', sans-serif" font-size="19" font-weight="normal" fill="#111" text-anchor="middle" >8</text>
</g>
<text class="cj" transform="translate(222.3 708.5) rotate(-52.4)" x="0" y="0" font-size="6.8" font-weight="bold" fill="#111">号门</text>
<g transform="translate(910.7 505) rotate(-12.9)">
<rect x="-12" y="-21.6" width="24" height="43.2" rx="0" fill="#e6dc3e" stroke="none" stroke-width="1.3" />
<text x="-7.6" y="6.7" font-family="'Liberation Sans', sans-serif" font-size="18.5" font-weight="normal" fill="#111" text-anchor="middle" >1</text>
</g>
<text class="cj" transform="translate(909 509.1) rotate(-12.9)" x="0" y="0" font-size="6.6" font-weight="bold" fill="#111">号门</text>
<path d="M0 0 L-10.5 -10.2 L-10.5 -5.5 L-19.5 -5.5 L-19.5 5.5 L-10.5 5.5 L-10.5 10.2 Z" fill="#e6dc3e" transform="translate(882 511.3) rotate(167.5)"/>
<rect x="915.8" y="650.2" width="24.8" height="43.6" rx="0" fill="#e6dc3e" stroke="none" stroke-width="1.3" />
<text x="921.8" y="679.2" font-family="'Liberation Sans', sans-serif" font-size="18.5" font-weight="normal" fill="#111" text-anchor="middle" >2</text>
<text class="cj" x="926.8" y="676" font-size="6.6" font-weight="bold" fill="#111">号门</text>
<path d="M0 0 L-10.5 -10.2 L-10.5 -5.5 L-18.5 -5.5 L-18.5 5.5 L-10.5 5.5 L-10.5 10.2 Z" fill="#e6dc3e" transform="translate(899.3 672) rotate(180)"/>
<rect x="928.4" y="872.7" width="24.6" height="44.5" rx="0" fill="#e6dc3e" stroke="none" stroke-width="1.3" />
<text x="934.6" y="901.6" font-family="'Liberation Sans', sans-serif" font-size="18.5" font-weight="normal" fill="#111" text-anchor="middle" >3</text>
<text class="cj" x="939.6" y="898.6" font-size="6.6" font-weight="bold" fill="#111">号门</text>
<path d="M0 0 L-10.5 -10.2 L-10.5 -5.5 L-18.5 -5.5 L-18.5 5.5 L-10.5 5.5 L-10.5 10.2 Z" fill="#e6dc3e" transform="translate(911 894.5) rotate(180)"/>
<rect x="296" y="1138.4" width="44.5" height="24" rx="0" fill="#e6dc3e" stroke="none" stroke-width="1.3" />
<text x="308.8" y="1157.2" font-family="'Liberation Sans', sans-serif" font-size="19" font-weight="normal" fill="#111" text-anchor="middle" >7</text>
<text class="cj" x="315.4" y="1154.6" font-size="6.9" font-weight="bold" fill="#111">号门</text>
<path d="M0 0 L-10 -11 L-10 -6 L-18 -6 L-18 6 L-10 6 L-10 11 Z" fill="#e6dc3e" transform="translate(318 1121) rotate(270)"/>
<rect x="414.8" y="1138.4" width="44.5" height="24" rx="0" fill="#e6dc3e" stroke="none" stroke-width="1.3" />
<text x="427.6" y="1157.2" font-family="'Liberation Sans', sans-serif" font-size="19" font-weight="normal" fill="#111" text-anchor="middle" >6</text>
<text class="cj" x="434.2" y="1154.6" font-size="6.9" font-weight="bold" fill="#111">号门</text>
<path d="M0 0 L-10 -11 L-10 -6 L-18 -6 L-18 6 L-10 6 L-10 11 Z" fill="#e6dc3e" transform="translate(436.8 1121) rotate(270)"/>
<rect x="559.6" y="1138.4" width="44.5" height="24" rx="0" fill="#e6dc3e" stroke="none" stroke-width="1.3" />
<text x="572.4" y="1157.2" font-family="'Liberation Sans', sans-serif" font-size="19" font-weight="normal" fill="#111" text-anchor="middle" >5</text>
<text class="cj" x="579" y="1154.6" font-size="6.9" font-weight="bold" fill="#111">号门</text>
<path d="M0 0 L-10 -11 L-10 -6 L-18 -6 L-18 6 L-10 6 L-10 11 Z" fill="#e6dc3e" transform="translate(581.6 1121) rotate(270)"/>
<rect x="727" y="1138.4" width="44.5" height="24" rx="0" fill="#e6dc3e" stroke="none" stroke-width="1.3" />
<text x="739.8" y="1157.2" font-family="'Liberation Sans', sans-serif" font-size="19" font-weight="normal" fill="#111" text-anchor="middle" >4</text>
<text class="cj" x="746.4" y="1154.6" font-size="6.9" font-weight="bold" fill="#111">号门</text>
<path d="M0 0 L-10 -11 L-10 -6 L-18 -6 L-18 6 L-10 6 L-10 11 Z" fill="#e6dc3e" transform="translate(749 1121) rotate(270)"/>
<rect x="173.8" y="366.2" width="14" height="31.8" rx="0" fill="#3d62ae" stroke="none" stroke-width="1.3" />
<path d="M-12.6 -2.4 L6.4 -2.4 L6.4 -5.6 L12.6 0 L6.4 5.6 L6.4 2.4 L-12.6 2.4 Z" fill="#fff" stroke="none" transform="translate(180.8 382.1) rotate(270)"/>
<g transform="rotate(-17 176.8 586)">
<rect x="161" y="579" width="31.6" height="14" rx="0" fill="#3d62ae" stroke="none" stroke-width="1.3" />
<path d="M-12.5 -2.3 L6.3 -2.3 L6.3 -5.6 L12.5 0 L6.3 5.6 L6.3 2.3 L-12.5 2.3 Z" fill="#fff" stroke="none" transform="translate(176.8 586) rotate(180)"/>
</g>
<rect x="958" y="383" width="32" height="14" rx="0" fill="#3d62ae" stroke="none" stroke-width="1.3" />
<path d="M-12.6 -2.4 L6.4 -2.4 L6.4 -5.6 L12.6 0 L6.4 5.6 L6.4 2.4 L-12.6 2.4 Z" fill="#fff" stroke="none" transform="translate(974 390) rotate(0)"/>
<rect x="975.8" y="1117.5" width="31.4" height="13.8" rx="0" fill="#3d62ae" stroke="none" stroke-width="1.3" />
<path d="M-12.4 -2.3 L6.3 -2.3 L6.3 -5.5 L12.4 0 L6.3 5.5 L6.3 2.3 L-12.4 2.3 Z" fill="#fff" stroke="none" transform="translate(991.5 1124.4) rotate(0)"/>
<rect x="162.6" y="1258.4" width="13.8" height="30.6" rx="0" fill="#3d62ae" stroke="none" stroke-width="1.3" />
<path d="M-12.1 -2.3 L6.1 -2.3 L6.1 -5.4 L12.1 0 L6.1 5.4 L6.1 2.3 L-12.1 2.3 Z" fill="#fff" stroke="none" transform="translate(169.5 1273.7) rotate(90)"/>
<rect x="937.3" y="1258.4" width="13.6" height="31.2" rx="0" fill="#3d62ae" stroke="none" stroke-width="1.3" />
<path d="M-12.3 -2.3 L6.2 -2.3 L6.2 -5.5 L12.3 0 L6.2 5.5 L6.2 2.3 L-12.3 2.3 Z" fill="#fff" stroke="none" transform="translate(944.1 1274) rotate(90)"/>
<circle cx="986.6" cy="356.4" r="5.6" fill="#fff" stroke="#d9252a" stroke-width="1.6"/>
<path d="M981 358.1 l2.8 -3.4 l2.8 2.8 l2.8 -2.8 l2.8 3.4" fill="none" stroke="#d9252a" stroke-width="1.5" stroke-linejoin="miter"/>
<path d="M979.3 360.4 h4.2 M989.7 354.4 h4.5" stroke="#fff" stroke-width="1.3"/>
<circle cx="935.8" cy="862" r="5.8" fill="#fff" stroke="#d9252a" stroke-width="1.6"/>
<path d="M930 863.7 l2.9 -3.5 l2.9 2.9 l2.9 -2.9 l2.9 3.5" fill="none" stroke="#d9252a" stroke-width="1.5" stroke-linejoin="miter"/>
<path d="M928.3 866.2 h4.3 M939 860 h4.6" stroke="#fff" stroke-width="1.3"/>
<circle cx="921.3" cy="1010.8" r="5.8" fill="#fff" stroke="#d9252a" stroke-width="1.6"/>
<path d="M915.5 1012.5 l2.9 -3.5 l2.9 2.9 l2.9 -2.9 l2.9 3.5" fill="none" stroke="#d9252a" stroke-width="1.5" stroke-linejoin="miter"/>
<path d="M913.8 1015 h4.3 M924.5 1008.8 h4.6" stroke="#fff" stroke-width="1.3"/>
<ellipse cx="272.5" cy="432.5" rx="22" ry="10" fill="none" stroke="#2a2a2a" stroke-width="1.1"/>
<path d="M281 385 L260 449 L273 440Z" fill="#111" stroke="#111" stroke-width="0.6" />
<path d="M281 385 L273 440 L278 451Z" fill="#fff" stroke="#111" stroke-width="0.9" />
<text class="cj" transform="translate(269.6 379.5) rotate(8)" x="0" y="0" font-size="10.2" fill="#111">南</text>
<text x="0" y="0" font-family="'Liberation Sans', sans-serif" font-size="10.5" font-weight="normal" fill="#111" text-anchor="start" transform="translate(287.5 381) rotate(8)" font-style="italic">S</text>
<text class="cj" transform="translate(254.5 465) rotate(8)" x="0" y="0" font-size="10.2" fill="#111">北</text>
<text x="0" y="0" font-family="'Liberation Sans', sans-serif" font-size="10.5" font-weight="normal" fill="#111" text-anchor="start" transform="translate(272.2 468.5) rotate(8)" font-style="italic">N</text>
<text class="cj" transform="translate(184.6 443.5) rotate(90)" x="-31.2" y="2.8" font-size="7.8" fill="#222">浦东国际机场方向</text>
<text transform="translate(176.2 477) rotate(90)" x="0" y="2.8" font-family="'Liberation Sans', sans-serif" font-size="7.80" font-weight="normal" fill="#222" text-anchor="middle">Pudong International Airport Direction</text>
<text class="cj" transform="translate(260 552.5) rotate(-18)" x="-23.4" y="2.8" font-size="7.8" fill="#222">龙东大道方向</text>
<text transform="translate(242.5 570.6) rotate(-18)" x="0" y="2.8" font-family="'Liberation Sans', sans-serif" font-size="7.78" font-weight="normal" fill="#222" text-anchor="middle">LongDong Road Direction</text>
<g transform="translate(633.8 433.5) rotate(-18)">
<text class="cj" x="-43.3" y="2.7" font-size="7.6" fill="#222">龙阳路</text>
<text x="-20.5" y="2.7" font-family="'Liberation Sans', sans-serif" font-size="8.2" font-weight="normal" fill="#222" xml:space="preserve">/Long Yang Road</text>
</g>
<g transform="translate(931 380) rotate(-4.7)">
<text class="cj" x="-70.2" y="2.8" font-size="7.8" fill="#222">南浦大桥方向</text>
<text x="-23.4" y="2.8" font-family="'Liberation Sans', sans-serif" font-size="8.6" font-weight="normal" fill="#222" xml:space="preserve">/ Nanpu Bridge Direction</text>
</g>
<text class="cj" transform="translate(957.7 491.2) rotate(-8.5)" x="-11.1" y="2.7" font-size="7.4" fill="#222">兰花路</text>
<text transform="translate(971 499.6) rotate(-8.5)" x="0" y="2.8" font-family="'Liberation Sans', sans-serif" font-size="7.83" font-weight="normal" fill="#222" text-anchor="middle">Lan Hua Road</text>
<g transform="translate(921.2 589) rotate(83)">
<text class="cj" x="-41.3" y="2.7" font-size="7.4" fill="#222">芳甸路</text>
<text x="-19.1" y="2.7" font-family="'Liberation Sans', sans-serif" font-size="8.0" font-weight="normal" fill="#222" xml:space="preserve">/Fang Dian Road</text>
</g>
<text class="cj" transform="translate(967.6 669) rotate(-1)" x="-11.1" y="2.7" font-size="7.4" fill="#222">樱花路</text>
<text transform="translate(981.5 677) rotate(-1)" x="0" y="2.7" font-family="'Liberation Sans', sans-serif" font-size="7.74" font-weight="normal" fill="#222" text-anchor="middle">Ying Hua Road</text>
<text class="cj" transform="translate(969.2 889.3) rotate(0)" x="-11.1" y="2.7" font-size="7.4" fill="#222">梅花路</text>
<text transform="translate(985.3 896.4) rotate(0)" x="0" y="2.9" font-family="'Liberation Sans', sans-serif" font-size="8.21" font-weight="normal" fill="#222" text-anchor="middle">Mei Hua Road</text>
<g transform="translate(914 858.3) rotate(0)">
<text x="-9.3" y="2.6" font-family="'Liberation Sans', sans-serif" font-size="7.6" font-weight="normal" fill="#222" xml:space="preserve">7</text>
<text class="cj" x="-4.9" y="2.6" font-size="7.2" fill="#222">号线</text>
</g>
<text transform="translate(913.5 866.2) rotate(0)" x="0" y="2.8" font-family="'Liberation Sans', sans-serif" font-size="7.89" font-weight="normal" fill="#222" text-anchor="middle">Line 7</text>
<g transform="translate(915 1026.6) rotate(0)">
<text x="-9.3" y="2.6" font-family="'Liberation Sans', sans-serif" font-size="7.6" font-weight="normal" fill="#222" xml:space="preserve">7</text>
<text class="cj" x="-4.9" y="2.6" font-size="7.2" fill="#222">号线</text>
</g>
<text transform="translate(915.5 1034.5) rotate(0)" x="0" y="2.9" font-family="'Liberation Sans', sans-serif" font-size="8.07" font-weight="normal" fill="#222" text-anchor="middle">Line 7</text>
<text class="cj" x="882.5" y="1122" font-size="7.8" fill="#222">东方路方向</text>
<text x="882.5" y="1131" font-family="'Liberation Sans', sans-serif" font-size="8.15" font-weight="normal" fill="#222" text-anchor="start" >Dongfang Road Direction</text>
<text class="cj" transform="translate(948.6 1174.6) rotate(90)" x="-27.3" y="2.8" font-size="7.8" fill="#222">大拇指广场方向</text>
<text transform="translate(939.6 1200) rotate(90)" x="0" y="2.8" font-family="'Liberation Sans', sans-serif" font-size="7.88" font-weight="normal" fill="#222" text-anchor="middle">Macro-thumb Plazza Direction</text>
<g transform="translate(169.6 1183.2) rotate(90)">
<text class="cj" x="-69.5" y="2.7" font-size="7.6" fill="#222">杨浦大桥方向</text>
<text x="-23.9" y="2.7" font-family="'Liberation Sans', sans-serif" font-size="8.2" font-weight="normal" fill="#222" xml:space="preserve">/ Yangpu Bridge Direction</text>
</g>
<g transform="translate(172.8 992.5) rotate(90)">
<text class="cj" x="-39" y="2.6" font-size="7.2" fill="#222">罗山路</text>
<text x="-17.4" y="2.6" font-family="'Liberation Sans', sans-serif" font-size="7.8" font-weight="normal" fill="#222" xml:space="preserve">/Luo Shan Road</text>
</g>
<g transform="translate(514.5 1122.2) rotate(0)">
<text class="cj" x="-38" y="2.7" font-size="7.4" fill="#222">花木路</text>
<text x="-15.8" y="2.7" font-family="'Liberation Sans', sans-serif" font-size="8.0" font-weight="normal" fill="#222" xml:space="preserve">/ Hua Mu Road</text>
</g>
<text class="cj" transform="translate(439.8 1182.5) rotate(90)" x="-13.1" y="3" font-size="8.6" fill="#222">柳杉路</text>
<text transform="translate(430.8 1193.8) rotate(90)" x="0" y="2.8" font-family="'Liberation Sans', sans-serif" font-size="8.02" font-weight="normal" fill="#222" text-anchor="middle">Liushan Road</text>
<text class="cj" x="812.9" y="1066.1" font-size="5" font-weight="bold" fill="#222">上海浦东嘉里大酒店</text>
<text transform="translate(835.4 1071) rotate(0)" x="0" y="1.3" font-family="'Liberation Sans', sans-serif" font-size="3.63" font-weight="bold" fill="#222" text-anchor="middle">Kerry Hotel Pudong Shanghai</text>
<g transform="translate(846 301.6) rotate(0)">
<text class="cj" x="0" y="0" font-size="14.4" font-weight="normal" fill="#222" textLength="258" lengthAdjust="spacingAndGlyphs" xml:space="preserve">磁悬浮列车站/2号线龙阳路地铁站 600米</text>
</g>
<text x="846.3" y="318.8" font-family="'Liberation Sans', sans-serif" font-size="13.9" font-weight="normal" fill="#222" text-anchor="start" textLength="216" lengthAdjust="spacingAndGlyphs">Transrapid Maglev Station /600m</text>
<text x="846.3" y="336.3" font-family="'Liberation Sans', sans-serif" font-size="13.9" font-weight="normal" fill="#222" text-anchor="start" textLength="221" lengthAdjust="spacingAndGlyphs">Line 2 LongYang Rd.Metro Station</text>
<polygon points="0,1444 0,1392 170,1444" fill="#fcece8" opacity="0.85"/>
<polygon points="620,1444 1200,1285 1200,1444" fill="#fdf3f0" opacity="0.9"/>
<polygon points="860,1444 1200,1335 1200,1444" fill="#fbebe7" opacity="0.7"/>
<polygon points="1050,1444 1200,1385 1200,1444" fill="#f8e0da" opacity="0.6"/>
<g transform="translate(64 1347.4) rotate(0)">
<text x="0" y="0" font-family="'Liberation Sans', sans-serif" font-size="32" font-weight="bold" fill="#d8231f" xml:space="preserve">3</text>
<text class="cj" x="18.5" y="0" font-size="30.6" font-weight="bold" fill="#d8231f">号入口厅</text>
</g>
<text class="cj" x="205" y="1346.8" font-size="22.2" font-weight="bold" fill="#d8231f">参展路线指引</text>
<text x="49.8" y="1374.5" font-family="'Liberation Sans', sans-serif" font-size="17" font-weight="normal" fill="#222" text-anchor="start" >*</text>
<g transform="translate(63.4 1377.4) rotate(0)">
<text class="cj" x="0" y="0" font-size="17.1" font-weight="normal" fill="#222">观众可从3号入口厅（花木路、罗山路）</text>
</g>
<text class="cj" x="63.4" y="1400.8" font-size="17.1" fill="#222">进入</text>
<text x="102.6" y="1400.8" font-family="'Liberation Sans', sans-serif" font-size="17.6" font-weight="normal" fill="#222" text-anchor="start" textLength="44.5" lengthAdjust="spacingAndGlyphs">N3/N4</text>
<text class="cj" x="162.6" y="1400.8" font-size="17.1" fill="#222">展馆</text>
<g transform="translate(824 1347.4) rotate(0)">
<text x="0" y="0" font-family="'Liberation Sans', sans-serif" font-size="32" font-weight="bold" fill="#d8231f" xml:space="preserve">2</text>
<text class="cj" x="18.5" y="0" font-size="30.6" font-weight="bold" fill="#d8231f">号入口厅</text>
</g>
<text class="cj" x="965" y="1346.8" font-size="22.2" font-weight="bold" fill="#d8231f">参展路线指引</text>
<text x="809.8" y="1374.5" font-family="'Liberation Sans', sans-serif" font-size="17" font-weight="normal" fill="#222" text-anchor="start" >*</text>
<g transform="translate(823.4 1377.4) rotate(0)">
<text class="cj" x="0" y="0" font-size="17.1" font-weight="normal" fill="#222">观众可从2号入口厅（花木路、芳甸路）</text>
</g>
<text class="cj" x="823.4" y="1400.8" font-size="17.1" fill="#222">进入</text>
<text x="862.6" y="1400.8" font-family="'Liberation Sans', sans-serif" font-size="17.6" font-weight="normal" fill="#222" text-anchor="start" textLength="44.5" lengthAdjust="spacingAndGlyphs">N3/N4</text>
<text class="cj" x="922.6" y="1400.8" font-size="17.1" fill="#222">展馆</text>
<path d="M300.7 991.2 C205 1015 100 1140 120.5 1301.6" fill="none" stroke="#d12a22" stroke-width="1.5" />
<path d="M113.5 1292.6 L121 1302.8 L127.6 1291.4" fill="none" stroke="#d12a22" stroke-width="1.5" />
<path d="M792.5 972.5 C890 985 1010 1120 986.6 1299.5" fill="none" stroke="#d12a22" stroke-width="1.5" />
<path d="M978.6 1288.6 L986.5 1300.5 L995.4 1288.2" fill="none" stroke="#d12a22" stroke-width="1.5" />
<path d="M716.5 76 Q750 57.5 787.5 76.5 Q751 63.5 716.5 76 Z" fill="#111" stroke="#111" stroke-width="0.6" />
<g transform="translate(706.5 94) scale(1.21 1)">
<text x="1.6" y="0" font-family="'Liberation Sans', sans-serif" font-size="26.5" font-weight="bold" fill="#161616" text-anchor="start" font-style="italic" stroke="#161616" stroke-width="0.7">c</text>
<text x="25.6" y="0" font-family="'Liberation Sans', sans-serif" font-size="26.5" font-weight="bold" fill="#161616" text-anchor="start" font-style="italic" stroke="#161616" stroke-width="0.7">mpressor</text>
<text x="152.5" y="0" font-family="'Liberation Sans', sans-serif" font-size="26.5" font-weight="bold" fill="#161616" text-anchor="start" font-style="italic" stroke="#161616" stroke-width="0.7">cn</text>
</g>
<circle cx="738.5" cy="86.6" r="8.2" fill="#d8231f" stroke="none" stroke-width="1.3"/>
<path d="M733.5 93.5 Q735 86 741 80.5 M737.5 94.5 Q738.5 88 743.5 83 M741.5 94 Q742 89.5 745.5 86" fill="none" stroke="#fff" stroke-width="1.2"/>
<rect x="883.6" y="90.6" width="5.6" height="3.6" rx="0" fill="#d8231f" stroke="none" stroke-width="1.3" />
<circle cx="889.8" cy="76" r="2.4" fill="none" stroke="#333" stroke-width="0.5"/>
<text x="889.8" y="77.4" font-family="'Liberation Sans', sans-serif" font-size="3.6" font-weight="normal" fill="#333" text-anchor="middle" >R</text>
<g transform="translate(831 106.2) skewX(-14) scale(1.52 1)">
<text class="cj" x="0" y="0" font-size="10.1" font-weight="bold" fill="#161616">中国压缩机网</text>
</g>
<g transform="translate(943.6 92.4) scale(0.98 1)">
<text class="cj" x="0" y="0" font-size="28.2" font-weight="bold" fill="#d8231f">压缩机</text>
</g>
<text class="cj" x="1031.5" y="80.2" font-size="12.2" font-weight="bold" fill="#161616">杂</text>
<text class="cj" x="1031.5" y="93.2" font-size="12.2" font-weight="bold" fill="#161616">志</text>
<circle cx="1028.2" cy="66" r="2.7" fill="none" stroke="#333" stroke-width="0.5"/>
<text x="1028.2" y="67.5" font-family="'Liberation Sans', sans-serif" font-size="4" font-weight="normal" fill="#333" text-anchor="middle" >R</text>
<text x="943.2" y="107" font-family="'Liberation Sans', sans-serif" font-size="12.6" font-weight="bold" fill="#161616" text-anchor="start" textLength="102" lengthAdjust="spacingAndGlyphs">COMPRESSOR</text>
<rect x="1058.6" y="65.6" width="41.4" height="41" rx="0" fill="#1d8fb4" stroke="none" stroke-width="1.3" />
<text x="0" y="0" font-family="'Liberation Sans', sans-serif" font-size="7.8" font-weight="bold" fill="#fff" text-anchor="start" transform="translate(1061.2 90.2) scale(0.72 1)" >ComVac</text>
<line x1="1061.2" y1="93.2" x2="1096.8" y2="93.2" stroke="#fff" stroke-width="0.5" opacity="0.9"/>
<text x="0" y="0" font-family="'Liberation Sans', sans-serif" font-size="4.4" font-weight="bold" fill="#fff" text-anchor="start" transform="translate(1061.2 101.4) scale(0.7 1)" >ASIA</text>
<rect x="1107" y="65.6" width="41.6" height="41" rx="0" fill="#1b8fd1" stroke="none" stroke-width="1.3" />
<text x="0" y="0" font-family="'Liberation Sans', sans-serif" font-size="7.4" font-weight="bold" fill="#fff" text-anchor="start" transform="translate(1109.8 84.4) scale(0.72 1)" >PTC</text>
<text x="0" y="0" font-family="'Liberation Sans', sans-serif" font-size="4.2" font-weight="bold" fill="#fff" text-anchor="start" transform="translate(1109.8 89.8) scale(0.7 1)" >MDA</text>
<line x1="1109.8" y1="93.2" x2="1145.6" y2="93.2" stroke="#fff" stroke-width="0.5" opacity="0.9"/>
<text x="0" y="0" font-family="'Liberation Sans', sans-serif" font-size="4.4" font-weight="bold" fill="#fff" text-anchor="start" transform="translate(1109.8 101.4) scale(0.7 1)" >ASIA</text>
<g>
<text class="cs" transform="translate(0 137.5) skewX(-14)" x="907 941 972.4 1008.4 1042 1078 1109.6 1141" y="0" font-size="27" fill="#1c1c1c">我们始终在一起!</text>
</g>
</svg>
</body></html>
